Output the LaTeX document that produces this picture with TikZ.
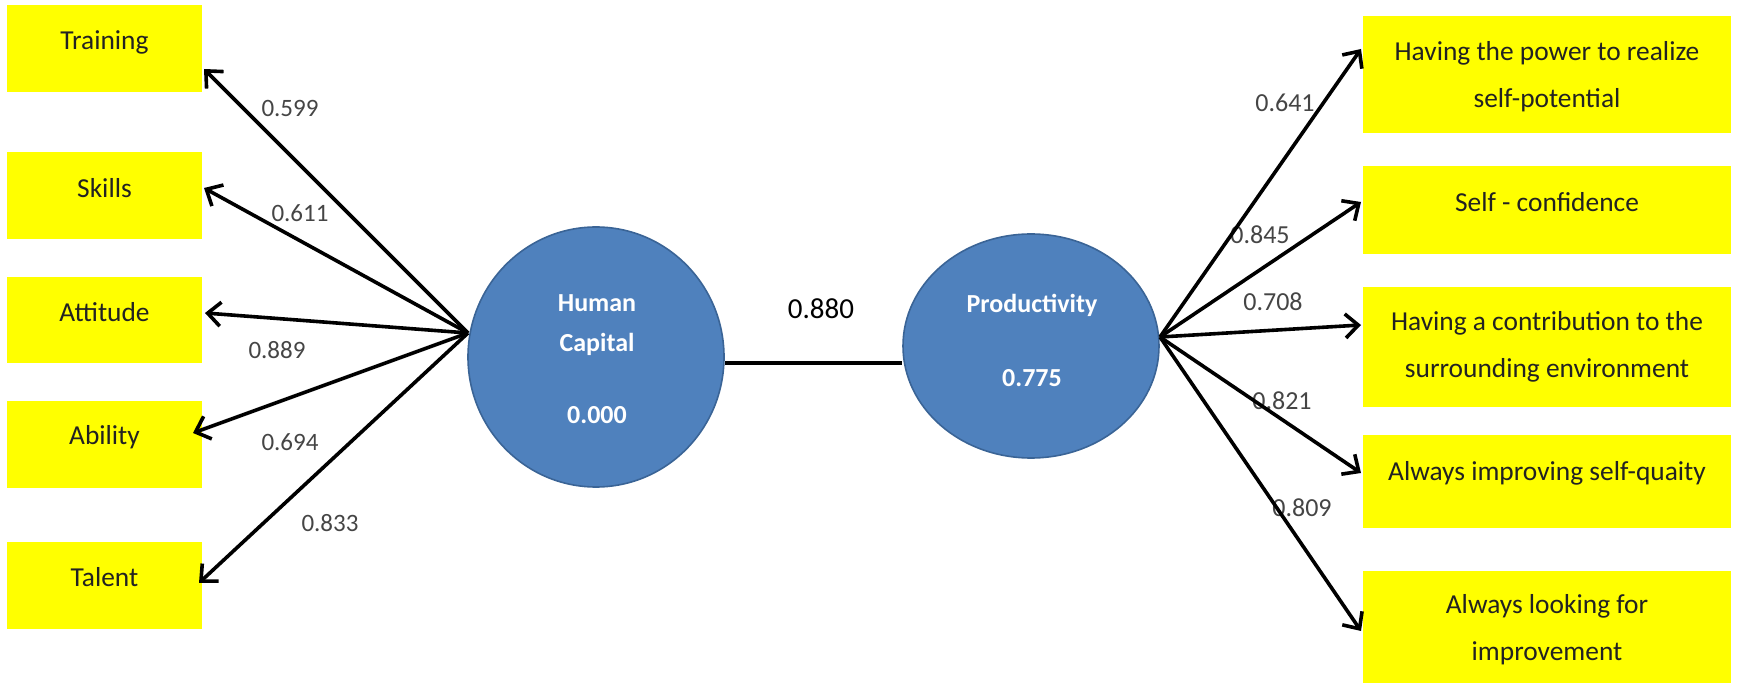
\documentclass[tikz,border=0pt]{standalone}
\usepackage{fontspec}
\setmainfont{Carlito}
\usetikzlibrary{arrows.meta,shapes.geometric}
\definecolor{boxyellow}{HTML}{FFFF00}
\definecolor{cfill}{HTML}{4F81BD}
\definecolor{cdraw}{HTML}{3A6496}
\definecolor{numgray}{HTML}{454545}
\definecolor{txtdark}{HTML}{222222}
\begin{document}
\begin{tikzpicture}[x=0.5pt,y=-0.5pt,
  ybox/.style={fill=boxyellow,draw=none,inner sep=0pt,minimum width=#1},
  ybox/.default=97.5pt,
  btxt/.style={text=txtdark,inner sep=0pt,align=center,font=\fontsize{13.7}{23.5}\selectfont},
  circ/.style={ellipse,fill=cfill,draw=cdraw,line width=0.8pt,inner sep=0pt},
  ctxt/.style={text=white,inner sep=0pt,align=center,font=\bfseries\fontsize{13}{20}\selectfont},
  num/.style={text=numgray,inner sep=0pt,font=\fontsize{12.5}{14}\selectfont},
  rnum/.style={text=numgray,inner sep=0pt,font=\fontsize{13}{14}\selectfont},
  arr/.style={line width=1.8pt,-{Straight Barb[length=6.5pt,width=12pt]}},
  link/.style={line width=2.2pt}]
\useasboundingbox (0,0) rectangle (1740,683);
\begin{scope}
\clip (0,0) rectangle (1740,683);
% left boxes
\node[ybox,minimum height=43.5pt] (training) at (104.5,48.5) {};
\node[ybox,minimum height=43.5pt] (skills) at (104.5,195.5) {};
\node[ybox,minimum height=43pt] (attitude) at (104.5,320) {};
\node[ybox,minimum height=43.5pt] (ability) at (104.5,444.5) {};
\node[ybox,minimum height=43.5pt] (talent) at (104.5,585.5) {};
% right boxes
\node[ybox=184pt,minimum height=58.5pt] (power) at (1547,74.5) {};
\node[ybox=184pt,minimum height=44pt] (conf) at (1547,210) {};
\node[ybox=184pt,minimum height=60pt] (contrib) at (1547,347) {};
\node[ybox=184pt,minimum height=46.5pt] (quality) at (1547,481.5) {};
\node[ybox=184pt,minimum height=59pt] (improve) at (1547,630) {};
\end{scope}
% box texts
\node[btxt] (trainingT) at (104.5,42) {Training};
\node[btxt] (skillsT) at (104.5,188) {Skills};
\node[btxt] (attitudeT) at (104.5,312) {Attitude};
\node[btxt] (abilityT) at (104.5,437) {Ability};
\node[btxt] (talentT) at (104.5,577) {Talent};
\node[btxt] (powerT) at (1547,76.5) {Having the power to realize\\self-potential};
\node[btxt] (confT) at (1547,202) {Self - confidence};
\node[btxt] (contribT) at (1547,347) {Having a contribution to the\\surrounding environment};
\node[btxt] (qualityT) at (1547,473) {Always improving self-quaity};
\node[btxt] (improveT) at (1547,629.5) {Always looking for\\improvement};
% circles
\coordinate (mid) at (0,363);
\node[circ,minimum width=128pt,minimum height=130pt] (hc) at (596,357) {};
\node[circ,minimum width=128pt,minimum height=112pt] (prod) at (1031,346) {};
\node[ctxt] (hcT) at (597,359) {Human\\Capital\\[16pt]0.000};
\node[ctxt] (prodT) at (1032,340) {Productivity\\[17pt]0.775};
\draw[link] (hc.east |- mid) -- (prod.west |- mid);
\node[text=black,inner sep=0pt,font=\fontsize{14.5}{16}\selectfont] (lhp) at (821,309) {0.880};
% labels
\node[num] (l1) at (290,108) {0.599};
\node[num] (l2) at (300,213) {0.611};
\node[num] (l3) at (277,350) {0.889};
\node[num] (l4) at (290,442) {0.694};
\node[num] (l5) at (330,523) {0.833};
\node[rnum] (r1) at (1285,103) {0.641};
\node[rnum] (r2) at (1260,235) {0.845};
\node[rnum] (r3) at (1273,302) {0.708};
\node[rnum] (r4) at (1282,401) {0.821};
\node[rnum] (r5) at (1302,508) {0.809};
% hubs and tips
\coordinate (hubL) at (468,333);
\coordinate (hubR) at (1160,337);
\coordinate (tTraining) at (204,69);
\coordinate (tSkills) at (204,188);
\coordinate (tAttitude) at (205,313);
\coordinate (tAbility) at (193,433);
\coordinate (tTalent) at (199,583);
\coordinate (tPower) at (1361,49);
\coordinate (tConf) at (1361,202);
\coordinate (tContrib) at (1361,325);
\coordinate (tQuality) at (1361,473);
\coordinate (tImprove) at (1361,631);
\draw[arr] (hubL) -- (tTraining);
\draw[arr] (hubL) -- (tSkills);
\draw[arr] (hubL) -- (tAttitude);
\draw[arr] (hubL) -- (tAbility);
\draw[arr] (hubL) -- (tTalent);
\draw[arr] (hubR) -- (tPower);
\draw[arr] (hubR) -- (tConf);
\draw[arr] (hubR) -- (tContrib);
\draw[arr] (hubR) -- (tQuality);
\draw[arr] (hubR) -- (tImprove);
\end{tikzpicture}
\end{document}
